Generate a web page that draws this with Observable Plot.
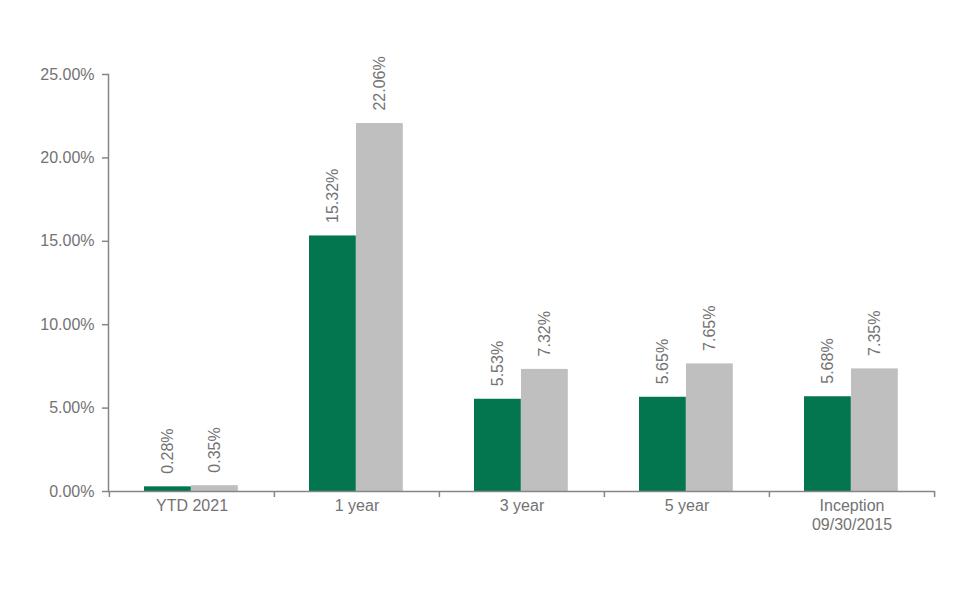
<!DOCTYPE html>
<html>
<head>
<meta charset="utf-8">
<script src="https://cdn.jsdelivr.net/npm/d3@7"></script>
<script src="https://cdn.jsdelivr.net/npm/@observablehq/plot@0.6"></script>
<style>
  html, body { margin: 0; padding: 0; background: #fff; }
  #chart svg { display: block; }
</style>
</head>
<body>
<div id="chart"></div>
<script>
const categories = ["YTD 2021", "1 year", "3 year", "5 year", "Inception\n09/30/2015"];
const fundValues = [0.28, 15.32, 5.53, 5.65, 5.68];
const benchmarkValues = [0.35, 22.06, 7.32, 7.65, 7.35];
const yTicks = [0, 5, 10, 15, 20, 25];

const fundData = categories.map((c, i) => ({category: c, value: fundValues[i]}));
const benchData = categories.map((c, i) => ({category: c, value: benchmarkValues[i]}));

const W = 964, H = 595;
const mL = 108, mR = 30, mT = 74, mB = 104;
const step = (W - mL - mR) / categories.length;
const barW = 47, outer = 36;

const green = "#03754f", gray = "#bfbfbf", axisColor = "#868686", textColor = "#737373";
const fmt = d => d.toFixed(2) + "%";

const plot = Plot.plot({
  width: W, height: H,
  marginLeft: mL, marginRight: mR, marginTop: mT, marginBottom: mB,
  style: {fontFamily: "'Liberation Sans', Arial, sans-serif", fontSize: "16px", color: textColor, background: "#fff"},
  x: {domain: categories, padding: 0, axis: null, label: null},
  y: {domain: [0, 25], axis: null, label: null},
  marks: [
    Plot.barY(fundData, {x: "category", y: "value", fill: green,
      insetLeft: outer - 1, insetRight: step - outer - barW + 1}),
    Plot.barY(benchData, {x: "category", y: "value", fill: gray,
      insetLeft: outer + barW - 1, insetRight: step - outer - 2 * barW + 1}),
    Plot.text(fundData, {x: "category", y: "value", text: d => fmt(d.value), rotate: -90,
      textAnchor: "start", lineAnchor: "middle", dx: outer + barW / 2 - step / 2 - 1, dy: -13,
      fill: textColor, fontSize: 16}),
    Plot.text(benchData, {x: "category", y: "value", text: d => fmt(d.value), rotate: -90,
      textAnchor: "start", lineAnchor: "middle", dx: outer + 1.5 * barW - step / 2 - 1, dy: -13,
      fill: textColor, fontSize: 16}),
    Plot.axisY({ticks: yTicks, tickFormat: fmt, tickSize: 6, tickPadding: 8, stroke: axisColor,
      strokeWidth: 1.5, fill: textColor, fontSize: 16, label: null}),
    Plot.frame({anchor: "left", stroke: axisColor, strokeWidth: 1.5}),
    Plot.ruleY([0], {stroke: axisColor, strokeWidth: 1.5}),
    Plot.axisX({tickSize: 0, tickPadding: 6, fill: textColor, fontSize: 16, lineHeight: 1.2, label: null}),
    Plot.axisX({tickSize: 6, text: null, dx: -step / 2, stroke: axisColor, strokeWidth: 1.5, label: null}),
    Plot.axisX({ticks: [categories[categories.length - 1]], tickSize: 6, text: null, dx: step / 2,
      stroke: axisColor, strokeWidth: 1.5, label: null})
  ]
});
document.getElementById("chart").appendChild(plot);
</script>
</body>
</html>
